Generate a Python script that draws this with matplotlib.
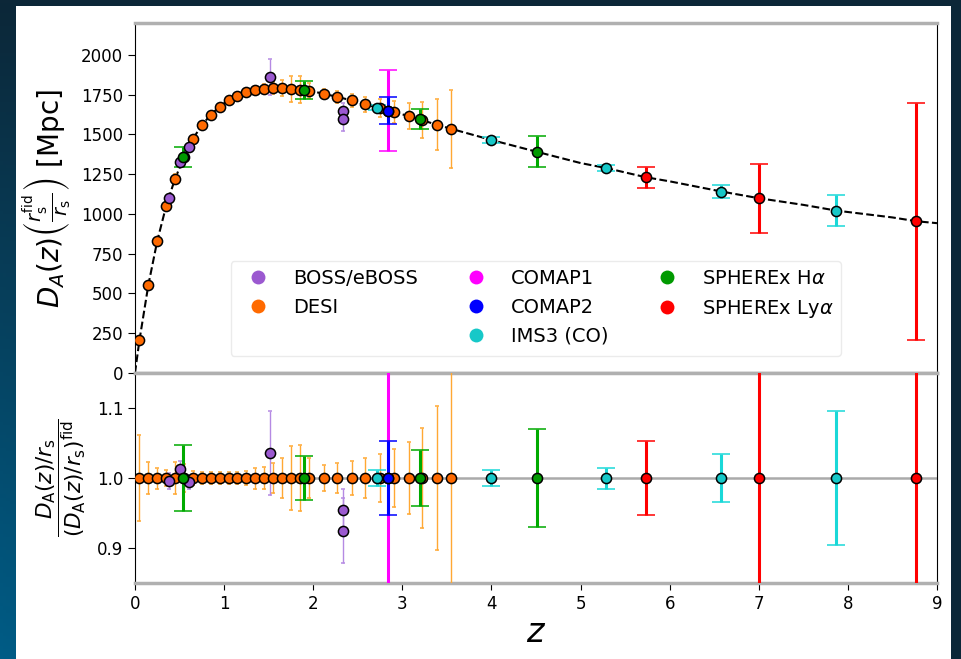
import numpy as np
import matplotlib.pyplot as plt
from matplotlib.lines import Line2D
from matplotlib.patches import Rectangle

# fiducial curve (dashed line)
curve_z = [0.0, 0.05, 0.15, 0.25, 0.35, 0.45, 0.55, 0.65, 0.75, 0.85, 0.95, 1.05, 1.15,
           1.25, 1.35, 1.45, 1.55, 1.65, 1.75, 1.85, 1.95, 2.12, 2.27, 2.43, 2.58, 2.75,
           2.91, 3.07, 3.22, 3.39, 3.55, 4.0, 4.5, 5.0, 5.3, 5.73, 6.0, 6.58, 7.0, 7.5,
           7.87, 8.5, 8.77, 9.0]
curve_d = [0, 205, 553, 830, 1050, 1222, 1355, 1472, 1558, 1623, 1675, 1715, 1742,
           1765, 1778, 1786, 1790, 1790, 1787, 1782, 1776, 1755, 1736, 1714, 1690, 1665,
           1640, 1615, 1590, 1560, 1535, 1465, 1392, 1320, 1287, 1231, 1205, 1141, 1099, 1057,
           1021, 978, 954, 942]

# DESI
desi_z = [0.05, 0.15, 0.25, 0.35, 0.45, 0.55, 0.65, 0.75, 0.85, 0.95, 1.05, 1.15, 1.25,
          1.35, 1.45, 1.55, 1.65, 1.75, 1.85, 1.95, 2.12, 2.27, 2.43, 2.58, 2.75, 2.91,
          3.07, 3.22, 3.39, 3.55]
desi_d = [205, 553, 830, 1050, 1222, 1355, 1472, 1558, 1623, 1675, 1715, 1742, 1765,
          1778, 1786, 1790, 1790, 1787, 1782, 1776, 1755, 1736, 1714, 1690, 1665, 1640,
          1615, 1590, 1560, 1535]
desi_ratio = [1.0] * 30
desi_err = [0.061, 0.023, 0.015, 0.012, 0.023, 0.02, 0.01, 0.008, 0.008, 0.008, 0.009,
            0.009, 0.01, 0.015, 0.016, 0.021, 0.028, 0.046, 0.047, 0.028, 0.019, 0.021,
            0.024, 0.028, 0.034, 0.042, 0.052, 0.071, 0.103, 0.16]

# BOSS/eBOSS
boss_z = [0.38, 0.51, 0.61, 1.52, 2.33, 2.34]
boss_d = [1103, 1325, 1422, 1860, 1650, 1597]
boss_ratio = [0.996, 1.013, 0.994, 1.036, 0.955, 0.925]
boss_err = [0.011, 0.011, 0.01, 0.06, 0.03, 0.046]

# line intensity mapping / SPHEREx forecasts
comap1_z, comap1_d, comap1_err = [2.84], [1650], [0.155]
comap2_z, comap2_d, comap2_err = [2.84], [1650], [0.053]
ims3_z = [2.72, 4.0, 5.29, 6.58, 7.87]
ims3_d = [1669, 1465, 1287, 1141, 1021]
ims3_err = [0.011, 0.012, 0.015, 0.034, 0.096]
ha_z = [0.54, 1.9, 3.2, 4.51]
ha_d = [1360, 1780, 1595, 1392]
ha_err = [0.047, 0.031, 0.04, 0.07]
lya_z = [5.73, 7.0, 8.77]
lya_d = [1231, 1099, 954]
lya_err = [0.053, 0.197, 0.78]

fig = plt.figure(figsize=(9.62, 6.59), dpi=100)

# dark blue slide background with white panel
bg = fig.add_axes([0, 0, 1, 1], zorder=-10)
bg.axis('off')
yy = np.linspace(0, 1, 200)[:, None]
xx = np.linspace(0, 1, 300)[None, :]
t = np.clip(yy * (1 - xx) ** 1.2, 0, 1)
c0 = np.array([0x0c, 0x27, 0x38]) / 255
c1 = np.array([0x00, 0x5c, 0x86]) / 255
img = c0 + t[..., None] * (c1 - c0)
bg.imshow(img, extent=[0, 1, 0, 1], aspect='auto', origin='upper')
bg.add_patch(Rectangle((16 / 962, 0), 935 / 962, 1 - 6 / 659, facecolor='white',
                       edgecolor='none', transform=bg.transAxes))
bg.set_xlim(0, 1)
bg.set_ylim(0, 1)

ax1 = fig.add_axes([0.1403, 0.434, 0.8337, 0.531])
ax2 = fig.add_axes([0.1403, 0.1153, 0.8337, 0.3187], sharex=ax1)

small = dict(fmt='o', ms=7.3, mec='black', mew=1.1, elinewidth=1.0, capsize=1.5, capthick=1.0)
big = dict(fmt='o', ms=7.3, mec='black', mew=1.1, elinewidth=2.2, capsize=6.5, capthick=2.2)

ax1.plot(curve_z, curve_d, 'k--', lw=1.5, zorder=1)


def draw(z, d, ratio, err, color, ecolor, style):
    d = np.array(d, dtype=float)
    err = np.array(err)
    ax1.errorbar(z, d, yerr=err * d, color=color, ecolor=ecolor, zorder=3, **style)
    ax2.errorbar(z, ratio, yerr=err, color=color, ecolor=ecolor, zorder=3, **style)


draw(desi_z, desi_d, desi_ratio, desi_err, '#ff6a00', '#ffa833', small)
draw(boss_z, boss_d, boss_ratio, boss_err, '#9b59d0', '#b58ae3', small)
draw(comap1_z, comap1_d, [1.0], comap1_err, '#ff00ff', '#ff00ff', big)
draw(comap2_z, comap2_d, [1.0], comap2_err, '#0000ff', '#0000ff', big)
draw(ims3_z, ims3_d, [1.0] * 5, ims3_err, '#16c8c8', '#1ad8d8', big)
draw(ha_z, ha_d, [1.0] * 4, ha_err, '#009a00', '#00aa00', big)
draw(lya_z, lya_d, [1.0] * 3, lya_err, '#ff0000', '#ff0000', big)

ax2.axhline(1.0, color='#aaaaaa', lw=1.8, zorder=0)

ax1.set_xlim(0, 9)
ax1.set_ylim(0, 2200)
ax1.set_yticks(np.arange(0, 2001, 250))
ax2.set_ylim(0.85, 1.15)
ax2.set_yticks([0.9, 1.0, 1.1])
ax2.set_xticks(range(10))

for ax in (ax1, ax2):
    ax.tick_params(labelsize=12, length=5)
    for s in ('top', 'bottom'):
        ax.spines[s].set_color('#b0b0b0')
        ax.spines[s].set_linewidth(2.5)
    for s in ('left', 'right'):
        ax.spines[s].set_color('black')
        ax.spines[s].set_linewidth(0.8)
ax1.tick_params(bottom=False, labelbottom=False)

ax1.set_ylabel(r'$D_A(z)\left(\frac{r_{\rm s}^{\rm fid}}{r_{\rm s}}\right)$ [Mpc]', fontsize=20,
               labelpad=6)
ax2.set_ylabel(r'$\dfrac{D_{\rm A}(z)/r_{\rm s}}{(D_{\rm A}(z)/r_{\rm s})^{\rm fid}}$', fontsize=15.5,
               labelpad=6)
ax2.set_xlabel(r'$z$', fontsize=24, labelpad=2)

def proxy(color, label):
    return Line2D([], [], ls='none', marker='o', ms=10, mfc=color, mec='none', label=label)

blank = Line2D([], [], ls='none', label=' ')
handles = [proxy('#9b59d0', 'BOSS/eBOSS'), proxy('#ff6a00', 'DESI'), blank,
           proxy('#ff00ff', 'COMAP1'), proxy('#0000ff', 'COMAP2'), proxy('#16c8c8', 'IMS3 (CO)'),
           proxy('#009a00', r'SPHEREx H$\alpha$'), proxy('#ff0000', r'SPHEREx Ly$\alpha$'), blank]
ax1.legend(handles=handles, ncol=3, loc='lower center', bbox_to_anchor=(0.5, 0.02),
           fontsize=14, columnspacing=2.0, edgecolor='#e6e6e6')

plt.savefig('out.png', dpi=100)
plt.close()
